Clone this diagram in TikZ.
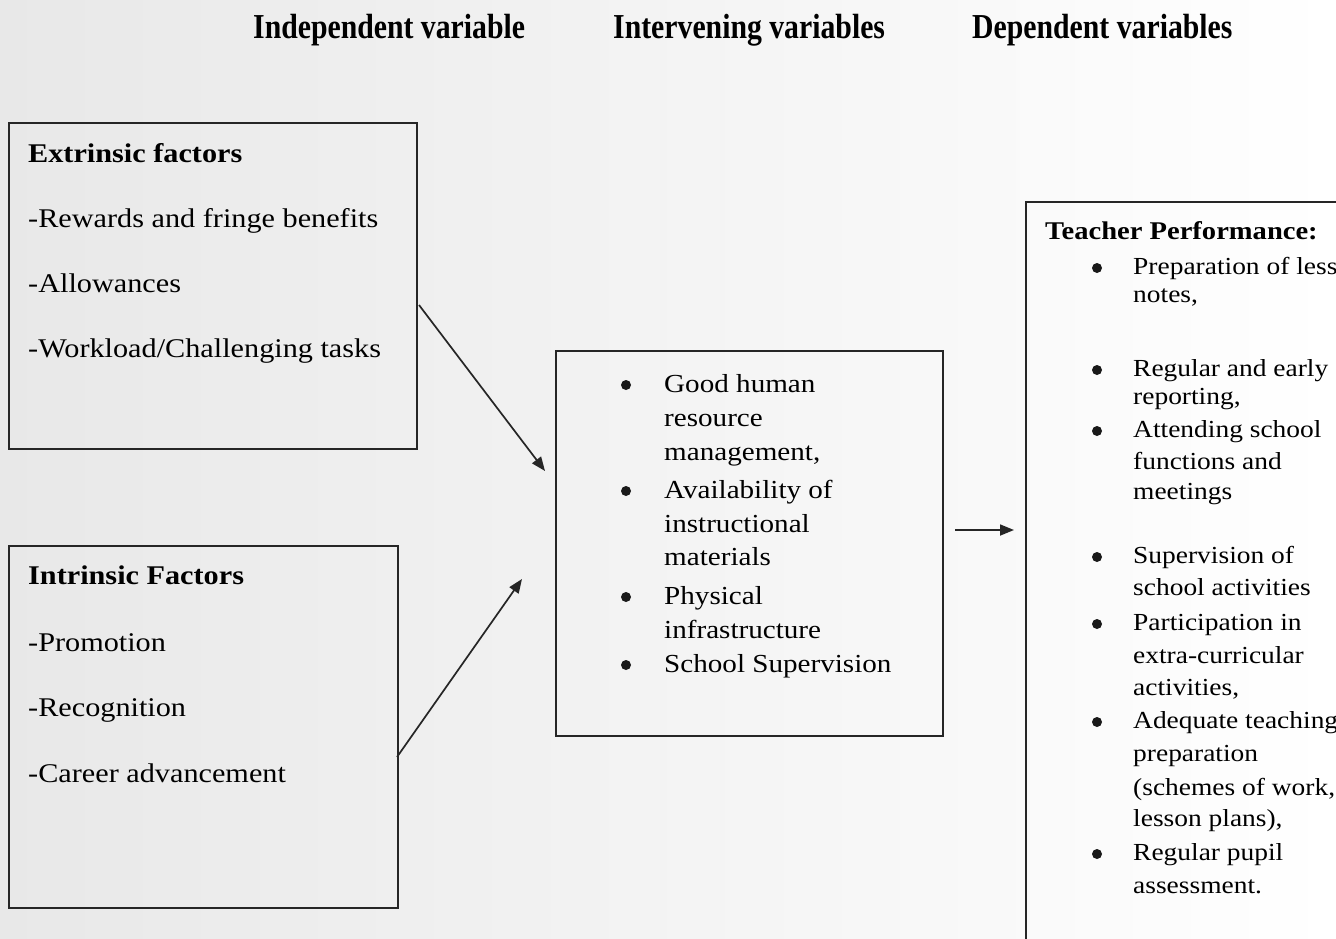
\documentclass[tikz,border=0pt]{standalone}
\usepackage{fontspec}
\setmainfont{Liberation Serif}
\newfontfamily\bodyfont[FakeStretch=1.12]{Liberation Serif}
\newfontfamily\hdrfont[FakeStretch=0.85]{Liberation Serif}
\usetikzlibrary{arrows.meta}
\begin{document}
\begin{tikzpicture}[x=1pt,y=-1pt,
  box/.style={draw=black!85, line width=1.8pt, rectangle, anchor=north west, inner sep=0pt},
  hdrtxt/.style={font=\hdrfont\bfseries\fontsize{35}{40}\selectfont, inner sep=0pt, anchor=mid west, yshift=-9pt},
  ltxt/.style={font=\bodyfont\fontsize{27}{32}\selectfont, inner sep=0pt, anchor=mid west, yshift=-7pt},
  ltxtb/.style={font=\bodyfont\bfseries\fontsize{27}{32}\selectfont, inner sep=0pt, anchor=mid west, yshift=-7pt},
  mtxt/.style={font=\bodyfont\fontsize{26}{30}\selectfont, inner sep=0pt, anchor=mid west, yshift=-7pt},
  rtxt/.style={font=\bodyfont\fontsize{24.5}{30}\selectfont, inner sep=0pt, anchor=mid west, yshift=-6pt},
  rtxtb/.style={font=\bodyfont\bfseries\fontsize{25.5}{30}\selectfont, inner sep=0pt, anchor=mid west, yshift=-6pt},
  bul/.style={circle, fill=black!90, inner sep=0pt, minimum size=10pt, yshift=-2pt},
  conn/.style={draw=black!85, line width=1.7pt, -{Triangle[length=14pt,width=11pt]}}
]
\useasboundingbox (0,0) rectangle (1336,938);
\clip (0,0) rectangle (1336,938);
\shade[left color=black!9, right color=white] (0,0) rectangle (1336,938);

% headers
\node[hdrtxt] (h1) at (253,27) {Independent variable};
\node[hdrtxt] (h2) at (613,27) {Intervening variables};
\node[hdrtxt] (h3) at (972,27) {Dependent variables};

% boxes
\node[box, minimum width=408pt, minimum height=326pt] (ext) at (8,122) {};
\node[box, minimum width=389pt, minimum height=362pt] (intr) at (8,545) {};
\node[box, minimum width=387pt, minimum height=385pt] (mid) at (555,350) {};
\node[box, minimum width=400pt, minimum height=800pt] (dep) at (1025,201) {};

% extrinsic
\node[ltxtb] (e0) at (28,153) {Extrinsic factors};
\node[ltxt] (e1) at (28,218) {-Rewards and fringe benefits};
\node[ltxt] (e2) at (28,283) {-Allowances};
\node[ltxt] (e3) at (28,348) {-Workload/Challenging tasks};

% intrinsic
\node[ltxtb] (i0) at (28,575) {Intrinsic Factors};
\node[ltxt] (i1) at (28,642) {-Promotion};
\node[ltxt] (i2) at (28,707) {-Recognition};
\node[ltxt] (i3) at (28,773) {-Career advancement};

% intervening
\foreach \yy/\tt [count=\i] in {383/Good human, 417/resource, 451/{management,}, 489/Availability of, 523/instructional, 556/materials, 595/Physical, 629/infrastructure, 663/School Supervision}
  \node[mtxt] (m\i) at (664,\yy) {\tt};
\foreach \yy [count=\i] in {383,489,595,663}
  \node[bul] (mb\i) at (626,\yy) {};

% dependent
\node[rtxtb] (d0) at (1045,231) {Teacher Performance:};
\foreach \yy/\tt [count=\i] in {266/Preparation of lesson, 294/{notes,}, 368/Regular and early, 396/{reporting,}, 429/Attending school, 461/functions and, 491/meetings, 555/Supervision of, 587/school activities, 622/Participation in, 655/extra-curricular, 687/{activities,}, 720/Adequate teaching, 753/preparation, 787/{(schemes of work,}, 818/{lesson plans),}, 852/Regular pupil, 885/assessment.}
  \node[rtxt] (d\i) at (1133,\yy) {\tt};
\foreach \yy [count=\i] in {266,368,429,555,622,720,852}
  \node[bul] (db\i) at (1097,\yy) {};

% connectors
\coordinate (a1s) at (419,305);
\coordinate (a1e) at (545,471);
\coordinate (a2s) at (397,757);
\coordinate (a2e) at (522,579);
\coordinate (a3s) at (955,530);
\coordinate (a3e) at (1014,530);
\draw[conn] (a1s) -- (a1e);
\draw[conn] (a2s) -- (a2e);
\draw[conn] (a3s) -- (a3e);
\end{tikzpicture}
\end{document}
